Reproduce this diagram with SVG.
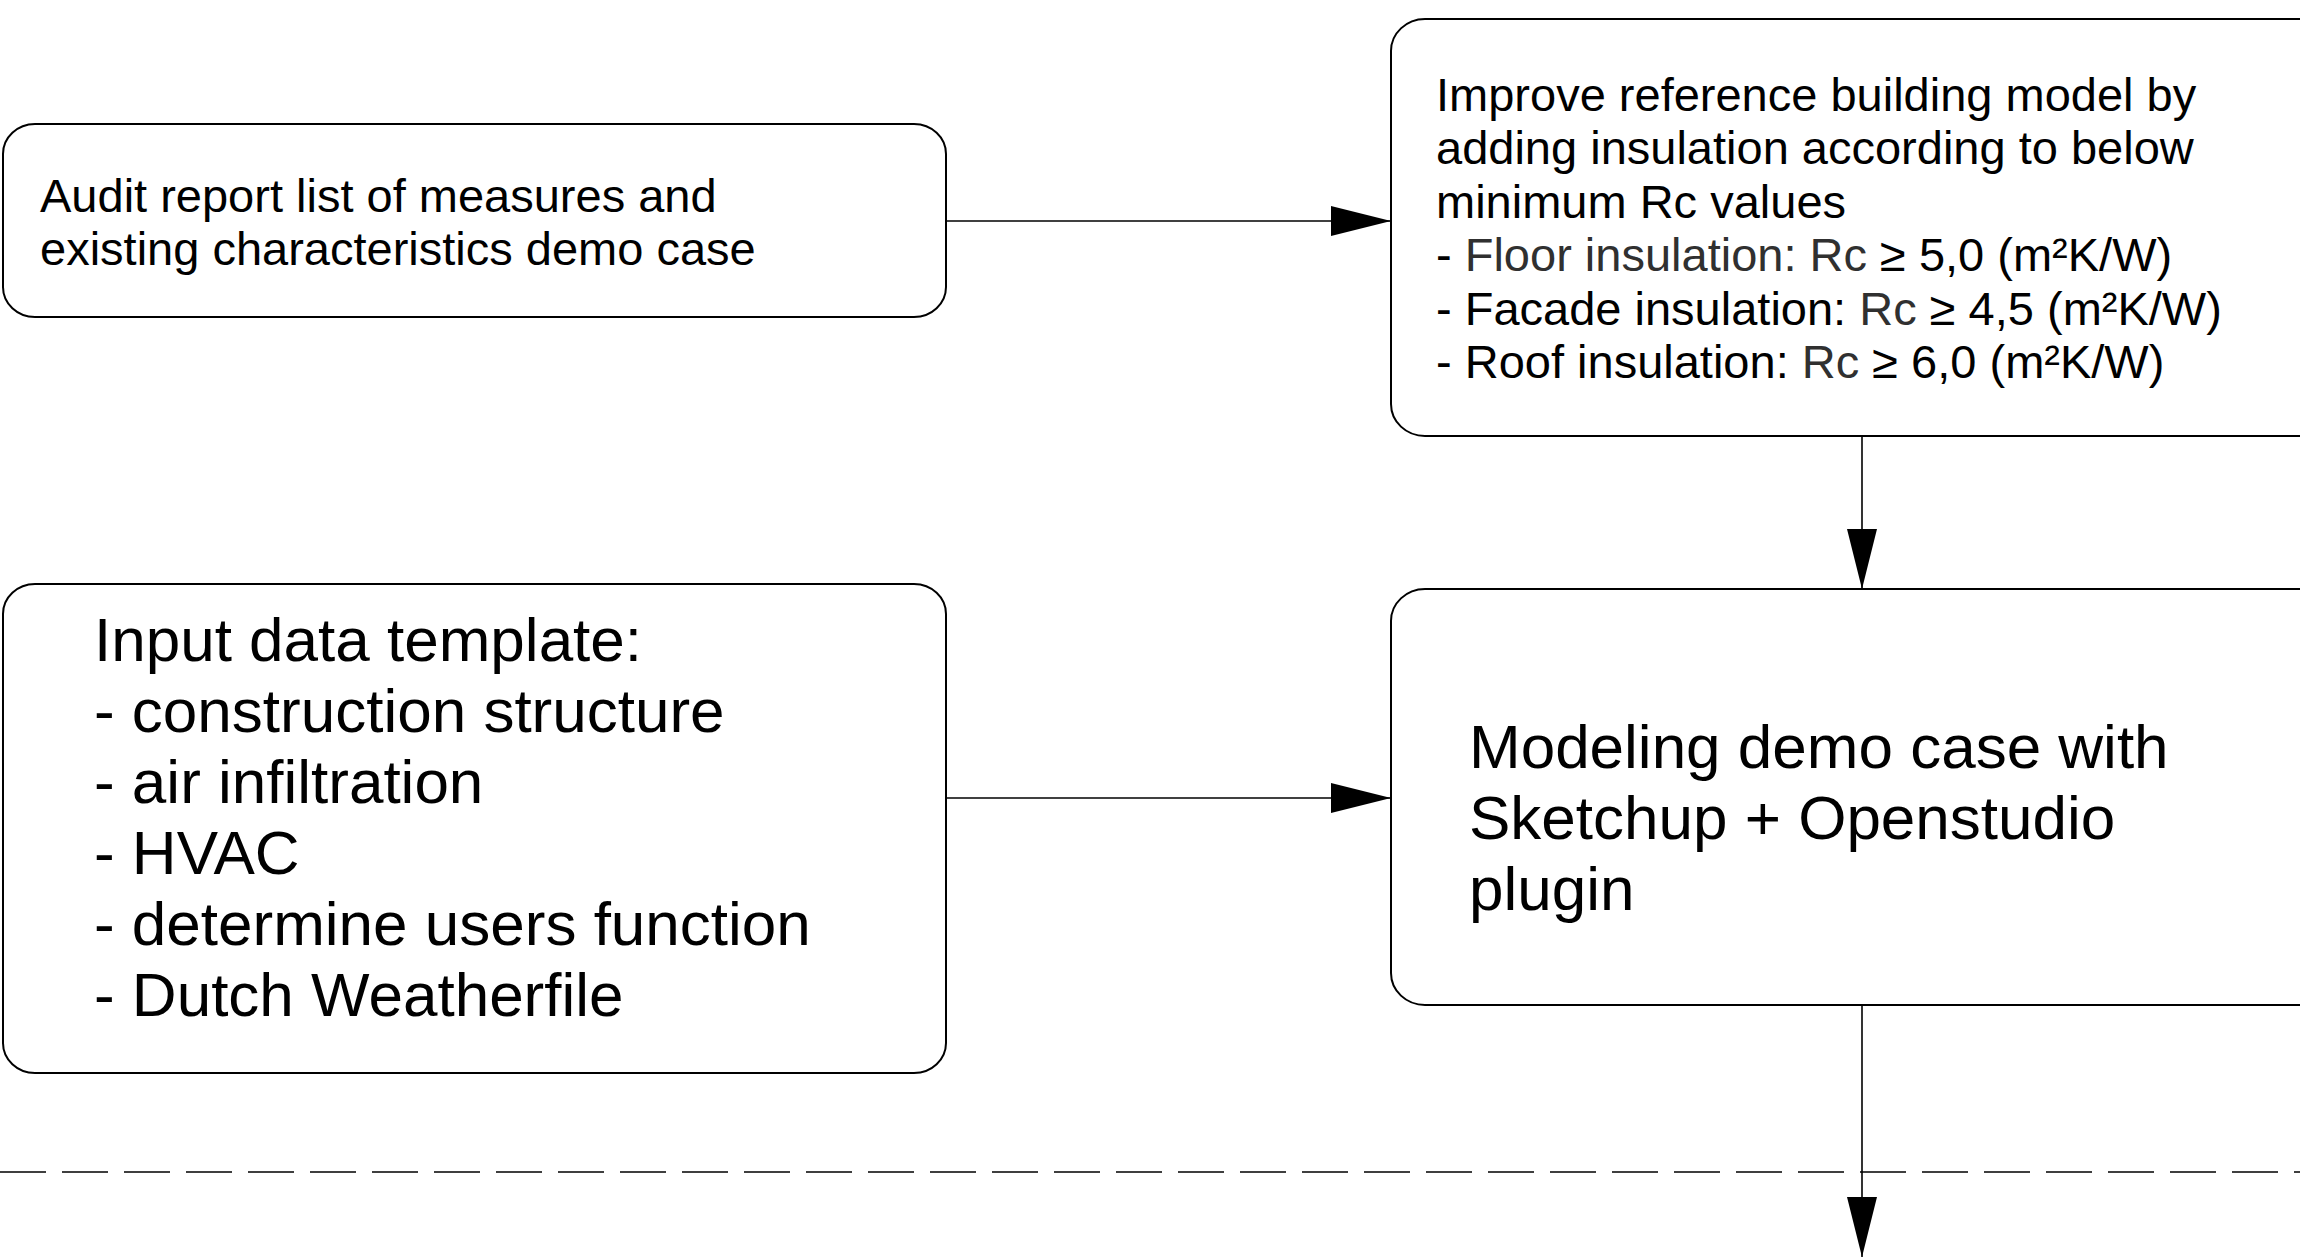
<svg xmlns="http://www.w3.org/2000/svg" width="2300" height="1258" viewBox="0 0 2300 1258">
  <style>
    .box { fill: #ffffff; stroke: #000000; stroke-width: 2; }
    .link { fill: none; stroke: #000000; stroke-width: 1.6; }
    .sep { fill: none; stroke: #000000; stroke-width: 1.6; stroke-dasharray: 46 16; }
    .t { font-family: "Liberation Sans", Arial, sans-serif; fill: #000000; }
    .s { font-size: 47px; }
    .l { font-size: 62px; }
    .g { fill: #303030; }
  </style>
  <defs>
    <marker id="arrow" viewBox="0 0 60 30" refX="60" refY="15" markerWidth="60" markerHeight="30" markerUnits="userSpaceOnUse" orient="auto">
      <path d="M0,0 L60,15 L0,30 Z" fill="#000000"/>
    </marker>
  </defs>

  <rect width="2300" height="1258" fill="#ffffff"/>

  <!-- phase separator -->
  <line class="sep" x1="0" y1="1172" x2="2300" y2="1172"/>

  <g id="connectors">
    <line class="link" x1="946" y1="221" x2="1391" y2="221" marker-end="url(#arrow)"/>
    <line class="link" x1="946" y1="798" x2="1391" y2="798" marker-end="url(#arrow)"/>
    <line class="link" x1="1862" y1="436" x2="1862" y2="589" marker-end="url(#arrow)"/>
    <line class="link" x1="1862" y1="1005" x2="1862" y2="1257" marker-end="url(#arrow)"/>
  </g>

  <g id="audit-report">
    <rect class="box" x="3" y="124" width="943" height="193" rx="32" ry="30"/>
    <text class="t s" x="40" y="212">Audit report list of measures and</text>
    <text class="t s" x="40" y="265">existing characteristics demo case</text>
  </g>

  <g id="improve-model">
    <rect class="box" x="1391" y="19" width="960" height="417" rx="34" ry="32"/>
    <text class="t s" x="1436" y="111">Improve reference building model by</text>
    <text class="t s" x="1436" y="164">adding insulation according to below</text>
    <text class="t s" x="1436" y="218">minimum Rc values</text>
    <text class="t s" x="1436" y="271">- <tspan class="g">Floor insulation: Rc</tspan> ≥ 5,0 (m²K/W)</text>
    <text class="t s" x="1436" y="325">- Facade insulation: <tspan class="g">Rc</tspan> ≥ 4,5 (m²K/W)</text>
    <text class="t s" x="1436" y="378">- Roof insulation: <tspan class="g">Rc</tspan> ≥ 6,0 (m²K/W)</text>
  </g>

  <g id="input-template">
    <rect class="box" x="3" y="584" width="943" height="489" rx="32" ry="30"/>
    <text class="t l" x="94" y="661">Input data template:</text>
    <text class="t l" x="94" y="732">- construction structure</text>
    <text class="t l" x="94" y="803">- air infiltration</text>
    <text class="t l" x="94" y="874">- HVAC</text>
    <text class="t l" x="94" y="945">- determine users function</text>
    <text class="t l" x="94" y="1016">- Dutch Weatherfile</text>
  </g>

  <g id="modeling">
    <rect class="box" x="1391" y="589" width="960" height="416" rx="34" ry="32"/>
    <text class="t l" x="1469" y="768">Modeling demo case with</text>
    <text class="t l" x="1469" y="839">Sketchup + Openstudio</text>
    <text class="t l" x="1469" y="910">plugin</text>
  </g>
</svg>
